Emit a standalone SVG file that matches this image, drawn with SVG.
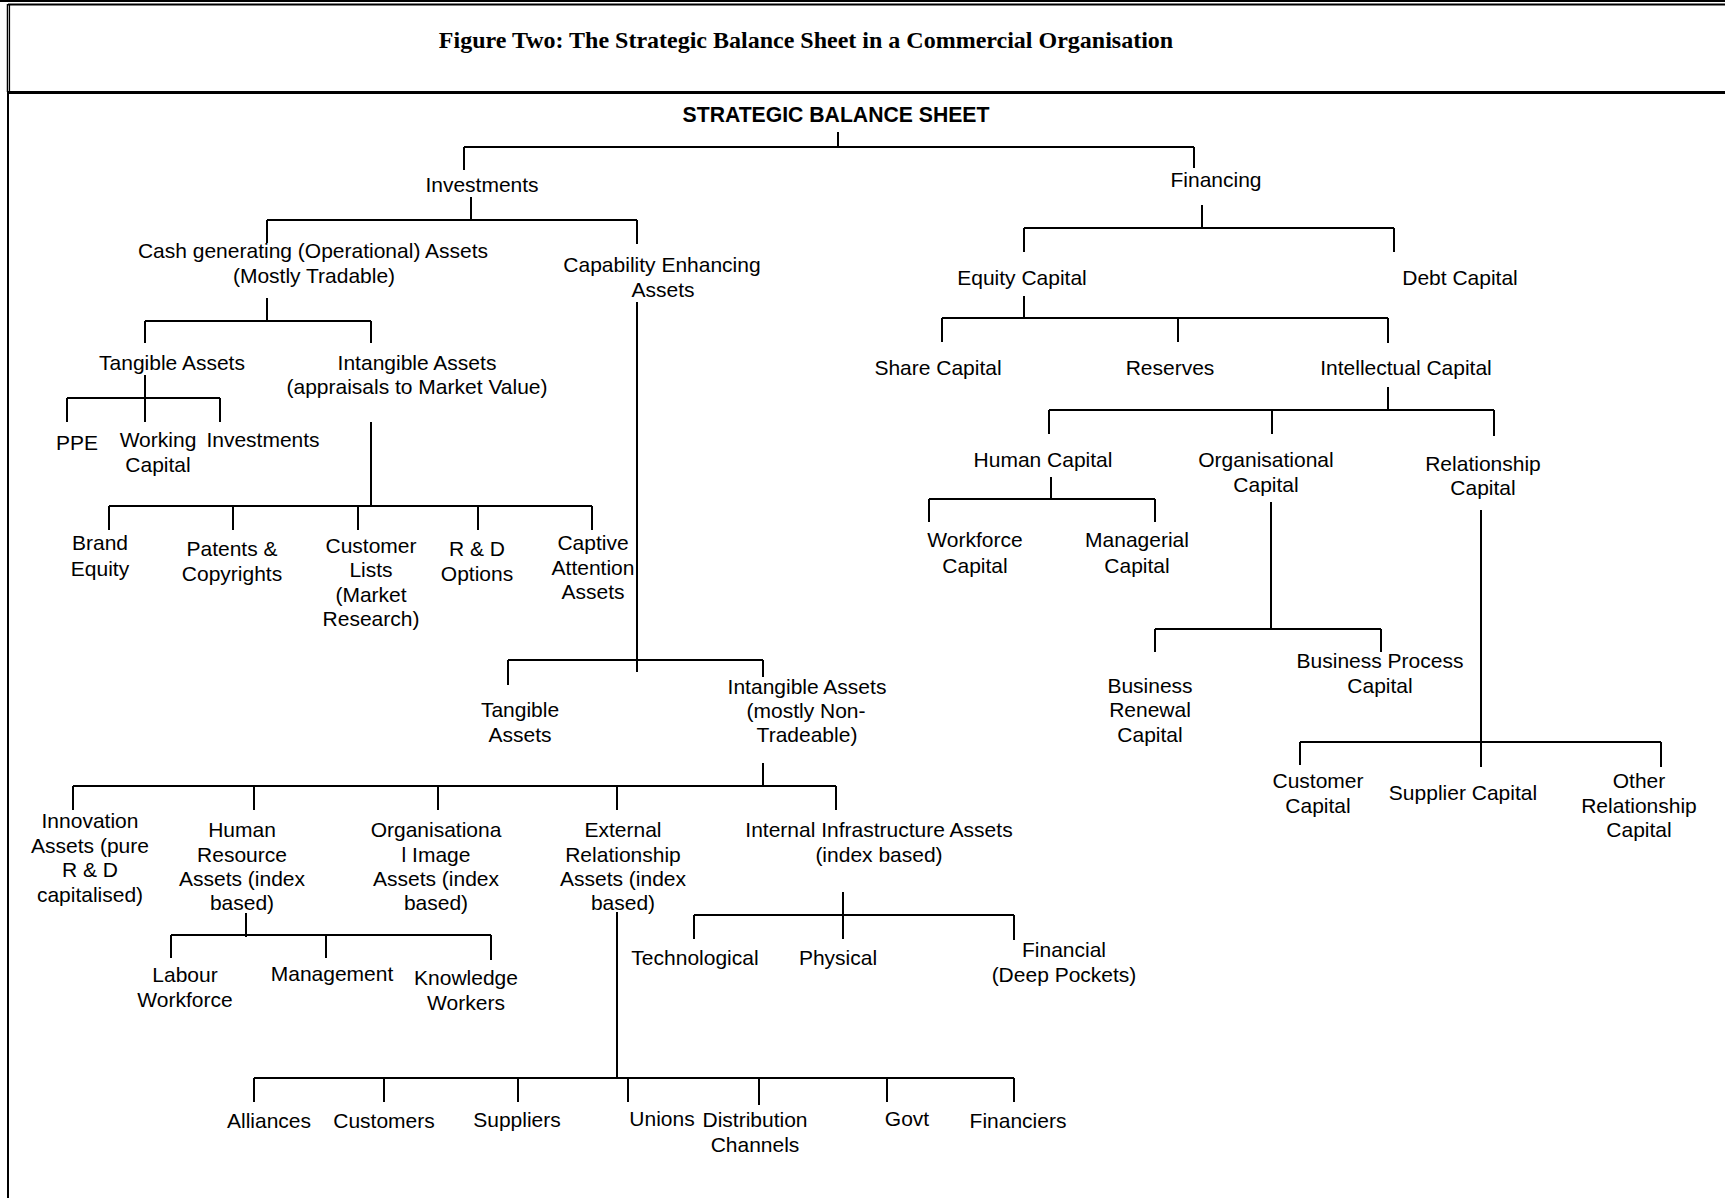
<svg xmlns="http://www.w3.org/2000/svg" width="1725" height="1200" viewBox="0 0 1725 1200">
<style>
.t{font-family:"Liberation Sans",Arial,sans-serif;font-size:21px;fill:#000;text-anchor:middle}
.b{font-weight:bold;font-size:21.2px}
.title{font-family:"Liberation Serif","Times New Roman",serif;font-size:24px;font-weight:bold;fill:#000;text-anchor:middle}
.c{stroke:#000;stroke-width:2;fill:none}
.f{stroke:#000;fill:none}
</style>
<rect width="1725" height="1200" fill="#fff"/>
<g id="frame">
<line class="f" x1="0" y1="1" x2="1725" y2="1" stroke-width="2"/>
<line class="f" x1="8" y1="4.5" x2="1725" y2="4.5" stroke-width="2"/>
<line class="f" x1="7.5" y1="4" x2="7.5" y2="92" stroke-width="1.5"/>
<line class="f" x1="9.5" y1="4" x2="9.5" y2="92" stroke-width="1.2"/>
<line class="f" x1="8" y1="92" x2="8" y2="1198" stroke-width="2"/>
<line class="f" x1="8" y1="92.5" x2="1725" y2="92.5" stroke-width="3"/>
</g>
<g id="title"><text class="title" x="806" y="48">Figure Two: The Strategic Balance Sheet in a Commercial Organisation</text></g>
<g id="connectors">
<path class="c" d="M838,132V147M464,147H1194M464,147V170M1194,147V168"/>
<path class="c" d="M471,197V220M267,220H637M267,220V243M637,220V244"/>
<path class="c" d="M267,298V321M145,321H371M145,321V343M371,321V343"/>
<path class="c" d="M145,375V398M67,398H220M67,398V422M145,398V422M220,398V422"/>
<path class="c" d="M371,422V506M109,506H592M109,506V530M233,506V530M358,506V530M478,506V530M592,506V530"/>
<path class="c" d="M637,302V672M508,660H763M508,660V685M763,660V677"/>
<path class="c" d="M763,763V786M73,786H836M73,786V810M254,786V810M438,786V810M617,786V810M836,786V810"/>
<path class="c" d="M246,913V937M171,935H491M171,935V958M326,935V958M491,935V960"/>
<path class="c" d="M617,912V1078M254,1078H1014M254,1078V1102M384,1078V1102M518,1078V1102M628,1078V1102M759,1078V1105M887,1078V1102M1014,1078V1102"/>
<path class="c" d="M843,892V915M694,915H1014M694,915V939M843,915V939M1014,915V940"/>
<path class="c" d="M1202,205V228M1024,228H1394M1024,228V252M1394,228V252"/>
<path class="c" d="M1024,296V319M942,318H1388M942,318V342M1178,318V342M1388,318V343"/>
<path class="c" d="M1388,387V410M1049,410H1494M1049,410V434M1272,410V434M1494,410V436"/>
<path class="c" d="M1051,477V499M929,499H1155M929,499V522M1155,499V522"/>
<path class="c" d="M1271,502V629M1155,629H1381M1155,629V652M1381,629V652"/>
<path class="c" d="M1481,510V767M1300,742H1661M1300,742V765M1661,742V767"/>
</g>
<g id="root"><text class="t b" x="836" y="122">STRATEGIC BALANCE SHEET</text></g>
<g id="investments"><text class="t" x="482" y="192">Investments</text></g>
<g id="financing"><text class="t" x="1216" y="187">Financing</text></g>
<g id="cash-generating"><text class="t"><tspan x="313" y="258">Cash generating (Operational) Assets</tspan><tspan x="314" y="283">(Mostly Tradable)</tspan></text></g>
<g id="capability-enhancing"><text class="t"><tspan x="662" y="272">Capability Enhancing</tspan><tspan x="663" y="297">Assets</tspan></text></g>
<g id="tangible-assets-1"><text class="t" x="172" y="370">Tangible Assets</text></g>
<g id="intangible-assets-1"><text class="t"><tspan x="417" y="370">Intangible Assets</tspan><tspan x="417" y="394">(appraisals to Market Value)</tspan></text></g>
<g id="ppe"><text class="t" x="77" y="450">PPE</text></g>
<g id="working-capital"><text class="t"><tspan x="158" y="447">Working</tspan><tspan x="158" y="472">Capital</tspan></text></g>
<g id="investments-2"><text class="t" x="263" y="447">Investments</text></g>
<g id="brand-equity"><text class="t"><tspan x="100" y="550">Brand</tspan><tspan x="100" y="576">Equity</tspan></text></g>
<g id="patents"><text class="t"><tspan x="232" y="556">Patents &amp;</tspan><tspan x="232" y="581">Copyrights</tspan></text></g>
<g id="customer-lists"><text class="t"><tspan x="371" y="553">Customer</tspan><tspan x="371" y="577">Lists</tspan><tspan x="371" y="602">(Market</tspan><tspan x="371" y="626">Research)</tspan></text></g>
<g id="rd-options"><text class="t"><tspan x="477" y="556">R &amp; D</tspan><tspan x="477" y="581">Options</tspan></text></g>
<g id="captive-attention"><text class="t"><tspan x="593" y="550">Captive</tspan><tspan x="593" y="575">Attention</tspan><tspan x="593" y="599">Assets</tspan></text></g>
<g id="tangible-assets-2"><text class="t"><tspan x="520" y="717">Tangible</tspan><tspan x="520" y="742">Assets</tspan></text></g>
<g id="intangible-assets-2"><text class="t"><tspan x="807" y="694">Intangible Assets</tspan><tspan x="806" y="718">(mostly Non-</tspan><tspan x="807" y="742">Tradeable)</tspan></text></g>
<g id="innovation-assets"><text class="t"><tspan x="90" y="828">Innovation</tspan><tspan x="90" y="853">Assets (pure</tspan><tspan x="90" y="877">R &amp; D</tspan><tspan x="90" y="902">capitalised)</tspan></text></g>
<g id="human-resource-assets"><text class="t"><tspan x="242" y="837">Human</tspan><tspan x="242" y="862">Resource</tspan><tspan x="242" y="886">Assets (index</tspan><tspan x="242" y="910">based)</tspan></text></g>
<g id="organisational-image"><text class="t"><tspan x="436" y="837">Organisationa</tspan><tspan x="436" y="862">l Image</tspan><tspan x="436" y="886">Assets (index</tspan><tspan x="436" y="910">based)</tspan></text></g>
<g id="external-relationship"><text class="t"><tspan x="623" y="837">External</tspan><tspan x="623" y="862">Relationship</tspan><tspan x="623" y="886">Assets (index</tspan><tspan x="623" y="910">based)</tspan></text></g>
<g id="internal-infrastructure"><text class="t"><tspan x="879" y="837">Internal Infrastructure Assets</tspan><tspan x="879" y="862">(index based)</tspan></text></g>
<g id="labour-workforce"><text class="t"><tspan x="185" y="982">Labour</tspan><tspan x="185" y="1007">Workforce</tspan></text></g>
<g id="management"><text class="t" x="332" y="981">Management</text></g>
<g id="knowledge-workers"><text class="t"><tspan x="466" y="985">Knowledge</tspan><tspan x="466" y="1010">Workers</tspan></text></g>
<g id="technological"><text class="t" x="695" y="965">Technological</text></g>
<g id="physical"><text class="t" x="838" y="965">Physical</text></g>
<g id="financial"><text class="t"><tspan x="1064" y="957">Financial</tspan><tspan x="1064" y="982">(Deep Pockets)</tspan></text></g>
<g id="alliances"><text class="t" x="269" y="1128">Alliances</text></g>
<g id="customers"><text class="t" x="384" y="1128">Customers</text></g>
<g id="suppliers"><text class="t" x="517" y="1127">Suppliers</text></g>
<g id="unions"><text class="t" x="662" y="1126">Unions</text></g>
<g id="distribution-channels"><text class="t"><tspan x="755" y="1127">Distribution</tspan><tspan x="755" y="1152">Channels</tspan></text></g>
<g id="govt"><text class="t" x="907" y="1126">Govt</text></g>
<g id="financiers"><text class="t" x="1018" y="1128">Financiers</text></g>
<g id="equity-capital"><text class="t" x="1022" y="285">Equity Capital</text></g>
<g id="debt-capital"><text class="t" x="1460" y="285">Debt Capital</text></g>
<g id="share-capital"><text class="t" x="938" y="375">Share Capital</text></g>
<g id="reserves"><text class="t" x="1170" y="375">Reserves</text></g>
<g id="intellectual-capital"><text class="t" x="1406" y="375">Intellectual Capital</text></g>
<g id="human-capital"><text class="t" x="1043" y="467">Human Capital</text></g>
<g id="organisational-capital"><text class="t"><tspan x="1266" y="467">Organisational</tspan><tspan x="1266" y="492">Capital</tspan></text></g>
<g id="relationship-capital"><text class="t"><tspan x="1483" y="471">Relationship</tspan><tspan x="1483" y="495">Capital</tspan></text></g>
<g id="workforce-capital"><text class="t"><tspan x="975" y="547">Workforce</tspan><tspan x="975" y="573">Capital</tspan></text></g>
<g id="managerial-capital"><text class="t"><tspan x="1137" y="547">Managerial</tspan><tspan x="1137" y="573">Capital</tspan></text></g>
<g id="business-renewal"><text class="t"><tspan x="1150" y="693">Business</tspan><tspan x="1150" y="717">Renewal</tspan><tspan x="1150" y="742">Capital</tspan></text></g>
<g id="business-process"><text class="t"><tspan x="1380" y="668">Business Process</tspan><tspan x="1380" y="693">Capital</tspan></text></g>
<g id="customer-capital"><text class="t"><tspan x="1318" y="788">Customer</tspan><tspan x="1318" y="813">Capital</tspan></text></g>
<g id="supplier-capital"><text class="t" x="1463" y="800">Supplier Capital</text></g>
<g id="other-relationship"><text class="t"><tspan x="1639" y="788">Other</tspan><tspan x="1639" y="813">Relationship</tspan><tspan x="1639" y="837">Capital</tspan></text></g>
</svg>
